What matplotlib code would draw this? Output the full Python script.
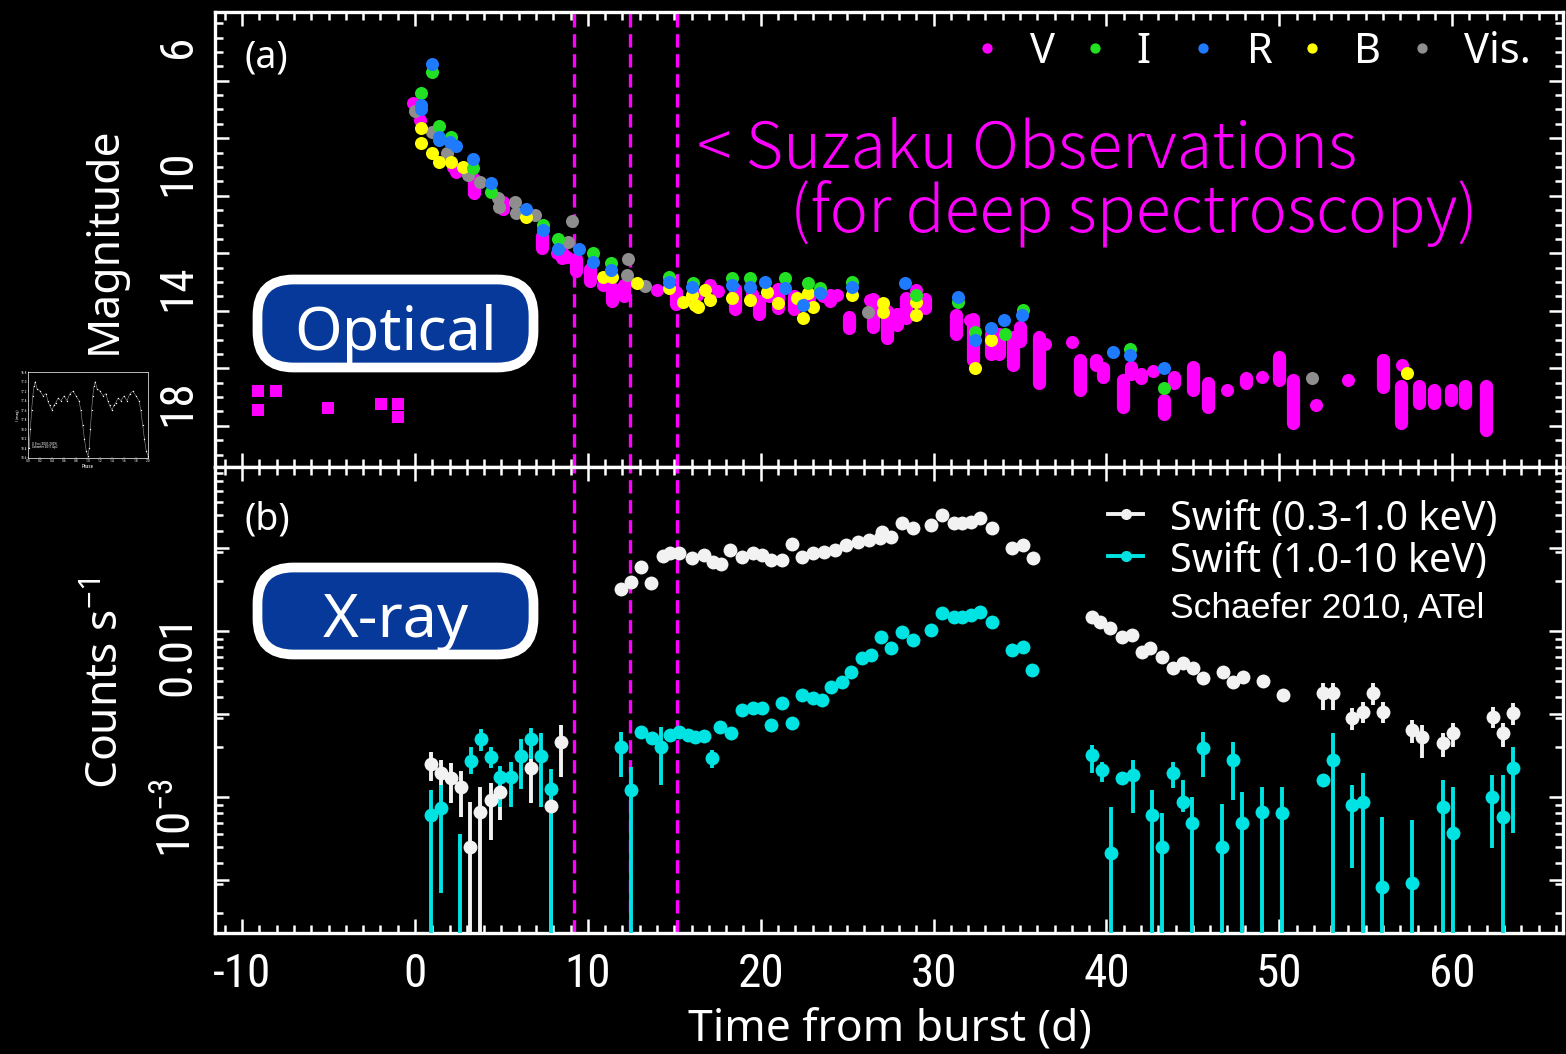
import numpy as np
import matplotlib
matplotlib.use("Agg")
import matplotlib.pyplot as plt
from matplotlib import font_manager
from matplotlib.patches import FancyBboxPatch
from matplotlib.ticker import FixedLocator, MultipleLocator, LogLocator, FuncFormatter, NullFormatter

W, H = 1566, 1054
fonts = font_manager.fontManager.ttflist
names = {f.name for f in fonts}
NARROW, STRETCH = None, "normal"
for cand in ["Liberation Sans Narrow", "Roboto Condensed", "Open Sans Condensed", "Noto Sans Condensed",
             "DejaVu Sans Condensed", "Arial Narrow"]:
    if cand in names:
        NARROW = cand
        break
if NARROW is None:
    cond = [f.name for f in fonts if str(f.stretch) in ("condensed", "semi-condensed", "extra-condensed")
            and f.name in ("Noto Sans", "Open Sans", "Roboto", "DejaVu Sans")]
    if cond:
        NARROW, STRETCH = cond[0], "condensed"
TICK_FS = 34
if NARROW is None:
    NARROW, TICK_FS = "Noto Sans", 30
SANS = "Noto Sans"
plt.rcParams["font.family"] = [NARROW, "DejaVu Sans"]
plt.rcParams["font.stretch"] = STRETCH
plt.rcParams["axes.unicode_minus"] = False

MAGENTA, GREEN, BLUE, YELLOW, GREY = "#ff00ff", "#22e022", "#1e7bff", "#ffff00", "#8e8e8e"
WHITE, CYAN = "#f2f2f2", "#00e3e3"

# ---------------- optical (panel a) ----------------
V_pre_day = [-9.08, -8.04, -9.08, -5.03, -1.97, -0.98, -0.98]
V_pre_mag = [17.79, 17.79, 18.45, 18.38, 18.24, 18.24, 18.70]

V_day = [-0.1, 0.29, 2.2, 2.4, 8.2, 8.77, 10.9, 12.05, 13.98, 16.3, 17.07, 17.5, 19.5, 20.5,
         22.8, 23.6, 24.4, 26.3, 29.0, 32.1, 52.1, 56.0, 57.1]
V_mag = [7.77, 8.37, 9.99, 10.16, 13.0, 13.12, 14.1, 14.16, 14.28, 14.45, 14.1, 14.3, 14.4, 14.5,
         14.6, 14.5, 14.45, 14.63, 14.28, 15.32, 18.28, 16.71, 16.89]

# magenta streaks: day, brightest mag, faintest mag
V_span_day = [3.4, 5.1, 7.35, 8.5, 9.3, 10.15, 11.4, 12.1, 15.1, 18.5, 19.9, 21.0, 21.9, 24.0,
              25.1, 26.5, 27.3, 27.9, 28.4, 29.5, 31.3, 32.3, 33.3, 33.8, 34.6, 35.0, 36.1,
              38.46, 39.4, 39.8, 40.95, 41.4, 42.0, 43.3, 43.9, 45.0, 45.85, 48.1, 50.0, 50.8,
              56.0, 57.05, 58.1, 58.95, 59.95, 60.75, 61.96]
V_span_top = [10.4, 11.2, 12.4, 12.95, 13.2, 13.55, 14.2, 14.1, 14.35, 14.25, 14.65, 14.25, 14.5,
              14.45, 15.2, 14.6, 15.0, 15.1, 14.55, 14.6, 15.15, 15.3, 15.8, 15.8, 15.9, 15.55,
              15.9, 16.7, 16.7, 17.0, 17.4, 16.95, 17.2, 18.1, 17.3, 16.95, 17.5, 17.35, 16.6,
              17.4, 16.7, 17.6, 17.6, 17.75, 17.75, 17.6, 17.6]
V_span_bot = [10.9, 11.45, 12.8, 13.15, 13.6, 13.95, 14.65, 14.5, 14.75, 14.95, 15.1, 14.9, 14.95,
              14.65, 15.6, 15.55, 15.95, 15.5, 15.25, 14.9, 15.8, 16.7, 16.5, 16.5, 16.9, 16.05,
              17.5, 17.75, 16.9, 17.3, 18.35, 17.2, 17.35, 18.6, 17.5, 17.75, 18.35, 17.5, 17.4,
              18.9, 17.65, 18.9, 18.2, 18.2, 18.1, 18.2, 19.15]
V_dot_day = [36.45, 38.0, 42.7, 46.96, 49.0, 54.0]
V_dot_mag = [16.15, 16.07, 17.08, 17.76, 17.3, 17.42]

I_day = [0.97, 0.33, 1.41, 2.06, 3.37, 4.38, 7.39, 8.29, 10.32, 11.33, 14.71, 16.1, 18.32, 19.38,
         21.4, 22.76, 23.43, 25.26, 29.0, 31.43, 32.38, 34.13, 35.15, 41.36, 43.3]
I_mag = [6.71, 7.44, 8.57, 8.94, 10.05, 10.86, 12.02, 12.51, 13.0, 13.35, 13.81, 14.02, 13.87, 13.87,
         13.87, 14.04, 14.22, 13.99, 14.45, 14.68, 15.73, 15.79, 14.97, 16.31, 17.7]

R_day = [0.97, 0.33, 0.33, 1.41, 1.41, 2.0, 2.37, 3.37, 4.38, 6.42, 7.39, 8.29, 9.51, 10.32, 11.33,
         14.71, 16.0, 18.32, 19.38, 20.25, 21.4, 22.47, 23.43, 25.26, 28.35, 31.43, 32.38, 33.3,
         34.1, 35.1, 40.37, 41.36, 43.3]
R_mag = [6.42, 7.85, 8.0, 8.94, 9.06, 9.12, 9.27, 9.73, 10.57, 11.47, 12.19, 12.86, 12.86, 13.29,
         13.58, 13.99, 14.16, 14.1, 14.16, 13.99, 14.22, 14.8, 14.39, 14.16, 14.04, 14.51, 16.02,
         15.61, 15.32, 15.15, 16.42, 16.54, 17.0]

B_day = [0.33, 0.33, 1.0, 1.4, 2.06, 2.8, 6.42, 10.9, 11.38, 12.82, 14.71, 15.52, 16.0, 16.2, 16.39,
         16.78, 17.07, 18.32, 19.38, 20.35, 21.02, 22.1, 22.76, 22.47, 23.05, 25.26, 27.1, 27.1,
         29.0, 29.0, 32.38, 33.3, 57.36]
B_mag = [8.65, 9.15, 9.52, 9.81, 9.81, 9.99, 11.75, 13.84, 13.84, 14.04, 14.22, 14.68, 14.45, 14.8,
         14.86, 14.28, 14.63, 14.57, 14.63, 14.34, 14.74, 14.57, 14.39, 15.26, 14.86, 14.45, 14.74,
         15.03, 14.68, 15.15, 17.0, 16.02, 17.17]

Vis_day = [0.0, 0.97, 1.83, 3.08, 3.76, 4.82, 4.88, 5.79, 5.84, 6.94, 8.87, 9.06, 12.34, 12.25,
           13.3, 26.23, 51.87]
Vis_mag = [8.04, 8.77, 9.52, 10.28, 10.51, 11.09, 11.38, 11.2, 11.6, 11.67, 12.6, 11.89, 13.21,
           13.76, 14.14, 15.03, 17.35]

# ---------------- X-ray (panel b), log10 counts/s ----------------
soft_day = [0.91, 1.49, 2.07, 2.64, 3.18, 3.76, 4.38, 4.92, 6.69, 7.87, 8.45,
            11.92, 12.51, 13.08, 13.67, 14.37, 14.76, 15.27, 16.05, 16.7, 17.21, 17.73, 18.25,
            18.89, 19.54, 20.05, 20.57, 21.21, 21.8, 22.38, 23.02, 23.67, 24.31, 24.96, 25.6,
            26.25, 26.9, 27.54, 27.02, 28.19, 28.83, 29.87, 30.49, 31.16, 31.67, 32.19, 32.71,
            33.35, 34.51, 35.16, 35.75,
            39.15, 39.63, 40.21, 40.88, 41.46, 42.04, 42.52, 43.2, 43.87, 44.45, 45.03, 45.6,
            46.76, 47.34, 47.92, 49.07, 50.23, 52.55, 53.13, 54.19, 54.86, 55.44, 56.02,
            57.66, 58.24, 59.49, 60.07, 62.38, 62.96, 63.54]
soft_log = [-2.801, -2.857, -2.887, -2.942, -3.299, -3.088, -3.018, -2.968, -2.827, -3.054, -2.667,
            -1.749, -1.703, -1.613, -1.709, -1.548, -1.532, -1.532, -1.562, -1.542, -1.583, -1.596,
            -1.512, -1.552, -1.532, -1.542, -1.572, -1.572, -1.478, -1.552, -1.532, -1.522, -1.512,
            -1.482, -1.462, -1.452, -1.442, -1.432, -1.402, -1.351, -1.381, -1.361, -1.301, -1.351,
            -1.351, -1.342, -1.321, -1.381, -1.502, -1.482, -1.562,
            -1.914, -1.944, -1.984, -2.034, -2.024, -2.125, -2.104, -2.155, -2.225, -2.195, -2.225,
            -2.285, -2.245, -2.305, -2.275, -2.299, -2.386, -2.375, -2.375, -2.526, -2.486, -2.375,
            -2.486, -2.596, -2.637, -2.677, -2.616, -2.516, -2.616, -2.496]
soft_err_lo = [0.10, 0.16, 0.15, 0.18, 1.5, 1.5, 0.24, 0.17, 0.21, 1.5, 0.21] + [0.02] * 40 + \
              [0.02] * 17 + [0.10, 0.10, 0.07, 0.07, 0.07, 0.07, 0.08, 0.13, 0.08, 0.08, 0.07, 0.08, 0.07]
soft_err_hi = [0.07, 0.08, 0.09, 0.10, 0.27, 0.15, 0.10, 0.09, 0.13, 0.12, 0.10] + [0.02] * 40 + \
               [0.02] * 17 + [0.06, 0.06, 0.06, 0.06, 0.06, 0.06, 0.06, 0.07, 0.06, 0.06, 0.06, 0.06, 0.06]

hard_day = [0.91, 1.49, 2.6, 3.22, 3.8, 4.38, 4.92, 5.53, 6.11, 6.69, 7.27, 7.87,
            11.92, 12.51, 13.08, 13.72, 14.24, 14.76, 15.27, 15.79, 16.18, 16.7, 17.16, 17.67,
            18.29, 18.89, 19.54, 20.05, 20.57, 21.21, 21.81, 22.38, 23.02, 23.55, 24.05, 24.68,
            25.22, 25.86, 26.38, 26.97, 27.54, 28.19, 28.78, 29.87, 30.51, 31.16, 31.67, 32.19,
            32.71, 33.35, 34.51, 35.16, 35.67,
            39.15, 39.72, 40.25, 40.88, 41.55, 42.62, 43.2, 43.83, 44.41, 44.93, 45.6, 46.67,
            47.3, 47.82, 48.98, 50.14, 52.51, 53.09, 54.19, 54.83, 55.92, 57.66, 59.45, 60.03,
            62.29, 62.93, 63.54]
hard_log = [-3.108, -3.068, -3.95, -2.781, -2.652, -2.757, -2.881, -2.881, -2.753, -2.652, -2.753, -2.954,
            -2.697, -2.958, -2.607, -2.647, -2.697, -2.627, -2.607, -2.627, -2.637, -2.633, -2.767,
            -2.577, -2.616, -2.476, -2.466, -2.466, -2.566, -2.436, -2.556, -2.386, -2.406, -2.416,
            -2.336, -2.305, -2.245, -2.165, -2.145, -2.034, -2.104, -2.004, -2.054, -1.994, -1.893,
            -1.914, -1.914, -1.904, -1.884, -1.944, -2.114, -2.094, -2.235,
            -2.747, -2.837, -3.339, -2.887, -2.867, -3.108, -3.299, -2.857, -3.028, -3.158, -2.707,
            -3.299, -2.777, -3.158, -3.088, -3.098, -2.898, -2.777, -3.048, -3.028, -3.54, -3.52,
            -3.058, -3.219, -2.998, -3.119, -2.827]
hard_err_lo = [1.5, 0.51, 0.0, 0.08, 0.07, 0.07, 0.18, 0.18, 0.2, 0.12, 0.31, 1.5,
               0.18, 1.5, 0.03, 0.03, 0.23] + [0.03] * 5 + [0.06] + [0.03] * 30 + \
              [0.11, 0.07, 1.5, 0.03, 0.23, 1.5, 1.5, 0.09, 0.06, 1.5, 0.17, 1.5, 0.24, 1.5, 1.5,
               1.5, 0.03, 1.5, 0.38, 1.5, 1.5, 1.5, 1.5, 1.5, 0.31, 1.5, 0.39]
hard_err_hi = [0.15, 0.14, 0.73, 0.08, 0.06, 0.06, 0.07, 0.09, 0.1, 0.07, 0.14, 0.12,
               0.09, 0.14, 0.03, 0.03, 0.12] + [0.03] * 5 + [0.05] + [0.03] * 30 + \
              [0.06, 0.05, 0.28, 0.03, 0.09, 0.15, 0.2, 0.07, 0.13, 0.16, 0.1, 0.26, 0.11, 0.19,
               0.15, 0.16, 0.03, 0.16, 0.12, 0.17, 0.42, 0.38, 0.16, 0.28, 0.13, 0.25, 0.13]

suzaku_days = [9.2, 12.42, 15.15]

# inset: folded U Sco eclipse light curve
inset_phase = [0.02, 0.04, 0.06, 0.08, 0.10, 0.12, 0.15, 0.2, 0.25, 0.3, 0.33, 0.36, 0.4, 0.43,
               0.46, 0.5, 0.55, 0.6, 0.65, 0.7, 0.75, 0.8, 0.85, 0.88, 0.91, 0.94, 0.97, 1.0]
inset_mag = [18.4, 18.0, 17.6, 17.3, 17.1, 17.0, 17.15, 17.2, 17.3, 17.25, 17.4, 17.5, 17.6, 17.5,
             17.45, 17.35, 17.4, 17.3, 17.4, 17.25, 17.2, 17.3, 17.4, 17.6, 17.9, 18.2, 18.45, 18.55]


def fx(x):
    return x / W


def fy(y):
    return 1 - y / H


fig = plt.figure(figsize=(W / 100, H / 100), dpi=100, facecolor="black")
L, R, TOP, MID, BOT = 215, 1563, 12, 467, 933
ax1 = fig.add_axes([fx(L), fy(MID), (R - L) / W, (MID - TOP) / H])
ax2 = fig.add_axes([fx(L), fy(BOT), (R - L) / W, (BOT - MID) / H], sharex=ax1)

for ax in (ax1, ax2):
    ax.set_facecolor("black")
    for s in ax.spines.values():
        s.set_color("white")
        s.set_linewidth(2.4)
    ax.tick_params(which="both", direction="in", colors="white", top=True, right=True, width=1.8)
    ax.tick_params(which="major", length=10)
    ax.tick_params(which="minor", length=5.5)
    for d in suzaku_days:
        ax.axvline(d, color=MAGENTA, lw=2.4, dashes=(4, 2), zorder=1)

ax1.set_xlim(-11.57, 66.41)
ax1.xaxis.set_major_locator(MultipleLocator(10))
ax1.xaxis.set_minor_locator(MultipleLocator(1))
ax1.tick_params(axis="x", labelbottom=False)

# panel a
ax1.set_ylim(20.43, 4.61)
ax1.yaxis.set_major_locator(FixedLocator(np.arange(7, 21, 2)))
ax1.yaxis.set_minor_locator(MultipleLocator(0.5))
ax1.tick_params(axis="y", labelleft=False)
sec = ax1.secondary_yaxis("left")
sec.set_yticks([6, 10, 14, 18])
sec.tick_params(length=0, pad=11, labelsize=TICK_FS, colors="white", labelrotation=90)
sec.spines["left"].set_visible(False)

vl = ax1.vlines(V_span_day, V_span_top, V_span_bot, colors=MAGENTA, lw=9.5, zorder=2)
vl.set_capstyle("round")
ms = 88
ax1.scatter(V_day + V_dot_day, V_mag + V_dot_mag, s=ms, color=MAGENTA, lw=0, zorder=2)
ax1.scatter(V_pre_day, V_pre_mag, s=70, marker="s", color=MAGENTA, lw=0, zorder=2)
ax1.scatter(Vis_day, Vis_mag, s=ms, color=GREY, lw=0, zorder=3)
ax1.scatter(B_day, B_mag, s=ms, color=YELLOW, lw=0, zorder=3)
ax1.scatter(I_day, I_mag, s=ms, color=GREEN, lw=0, zorder=3)
ax1.scatter(R_day, R_mag, s=ms, color=BLUE, lw=0, zorder=4)

# legend row of panel a
leg_dot_x = [987, 1095, 1203, 1312, 1422]
leg_txt_x = [1043, 1143, 1260, 1368, 1497]
for c, dx, tx, lab in zip([MAGENTA, GREEN, BLUE, YELLOW, GREY], leg_dot_x, leg_txt_x,
                          ["V", "I", "R", "B", "Vis."]):
    ax1.scatter([(dx - L) / (R - L)], [(MID - 48) / (MID - TOP)], s=55, color=c, lw=0,
                transform=ax1.transAxes, clip_on=False, zorder=6)
    fig.text(fx(tx), fy(63), lab, color="white", fontsize=30, family=SANS, ha="center", va="baseline")

fig.text(fx(245), fy(67), "(a)", color="white", fontsize=27, family=SANS, va="baseline")
fig.text(fx(697), fy(168), "< Suzaku Observations", color=MAGENTA, fontsize=46.5,
         family=["Noto Sans CJK JP", "DejaVu Sans"], fontweight="light", va="baseline")
fig.text(fx(790), fy(231), "(for deep spectroscopy)", color=MAGENTA, fontsize=46.5,
         family=["Noto Sans CJK JP", "DejaVu Sans"], fontweight="light", va="baseline")

# panel b
ax2.set_yscale("log")
ax2.set_ylim(10 ** -3.819, 10 ** -1.012)
ax2.yaxis.set_major_locator(FixedLocator(10.0 ** np.array([-1.5, -2, -2.5, -3, -3.5])))
ax2.yaxis.set_minor_locator(LogLocator(base=10, subs=np.arange(2, 10), numticks=20))
ax2.yaxis.set_minor_formatter(NullFormatter())
ylabels = {-2.0: "0.01", -3.0: r"$\mathregular{10^{-3}}$"}
ax2.yaxis.set_major_formatter(FuncFormatter(lambda v, p: ylabels.get(round(np.log10(v) * 2) / 2, "")))
ax2.tick_params(axis="y", labelsize=TICK_FS, labelrotation=90, pad=11)
ax2.tick_params(axis="x", labelsize=TICK_FS, pad=14)

for day, lg, elo, ehi, col in [(soft_day, soft_log, soft_err_lo, soft_err_hi, WHITE),
                               (hard_day, hard_log, hard_err_lo, hard_err_hi, CYAN)]:
    lg = np.array(lg)
    rate = 10 ** lg
    yerr = [rate - 10 ** (lg - np.array(elo)), 10 ** (lg + np.array(ehi)) - rate]
    ax2.errorbar(day, rate, yerr=yerr, fmt="o", color=col, ms=10, mew=0, elinewidth=2.8,
                 capsize=0, zorder=3)

# Swift legend
for yy, col, lab in [(514, WHITE, "Swift (0.3-1.0 keV)"), (556, CYAN, "Swift (1.0-10 keV)")]:
    ay = (BOT - yy) / (BOT - MID)
    ax2.plot([(1108 - L) / (R - L), (1143 - L) / (R - L)], [ay, ay], color=col, lw=2.8,
             transform=ax2.transAxes, zorder=6)
    ax2.plot([(1126 - L) / (R - L)], [ay], "o", color=col, ms=8, mew=0, transform=ax2.transAxes, zorder=6)
    fig.text(fx(1170), fy(yy + 16), lab, color="white", fontsize=28.5, family=SANS, va="baseline")
fig.text(fx(1170), fy(617), "Schaefer 2010, ATel", color="white", fontsize=25.5,
         family="Liberation Sans", va="baseline")
fig.text(fx(245), fy(530), "(b)", color="white", fontsize=27, family=SANS, va="baseline")

# axis titles
fig.text(fx(105), fy(240), "Magnitude", rotation=90, color="white", fontsize=32, family=SANS,
         ha="center", va="center")
fig.text(fx(108), fy(683), r"Counts s$\mathregular{^{-1}}$", rotation=90, color="white", fontsize=32,
         family=SANS, ha="center", va="center")
fig.text(fx(890), fy(1030), "Time from burst (d)", color="white", fontsize=32, family=SANS,
         ha="center", va="center")

# Optical / X-ray boxes
for y0, y1, lab, base in [(275, 372, "Optical", 350), (563, 659, "X-ray", 637)]:
    box = FancyBboxPatch((257.5 / 100, (H - y1 + 4.5) / 100), 276 / 100, (y1 - y0 - 9) / 100,
                         boxstyle="round,pad=0,rounding_size=0.36", transform=fig.dpi_scale_trans,
                         facecolor="#06399a", edgecolor="white", linewidth=7, zorder=10)
    fig.add_artist(box)
    fig.text(fx(396), fy(base), lab, color="white", fontsize=44, family=SANS, ha="center",
             va="baseline", zorder=11)

# inset thumbnail
axi = fig.add_axes([fx(28), fy(458), 120 / W, 86 / H])
axi.set_facecolor("black")
ph = np.concatenate([inset_phase, np.array(inset_phase) + 1])
mg = np.concatenate([inset_mag, inset_mag])
axi.plot(ph, mg, "o", color="white", ms=1.0, mew=0)
axi.plot(ph, mg, color="white", lw=0.4, alpha=0.6)
axi.set_xlim(0, 2.0)
axi.set_ylim(18.6, 16.8)
axi.set_xticks(np.arange(0, 2.01, 0.2))
axi.set_yticks(np.arange(16.8, 18.61, 0.2))
axi.xaxis.set_major_formatter(FuncFormatter(lambda v, p: f"{v:.1f}"))
axi.yaxis.set_major_formatter(FuncFormatter(lambda v, p: f"{v:.1f}"))
axi.tick_params(colors="white", labelsize=2.6, length=1, width=0.3, pad=0.8, direction="in")
for s in axi.spines.values():
    s.set_color("white")
    s.set_linewidth(0.5)
axi.set_xlabel("Phase", color="white", fontsize=3.5, labelpad=0.5)
axi.set_ylabel("I (mag)", color="white", fontsize=3, labelpad=0.5)
axi.text(0.03, 0.1, "U Sco (2001-2009)\nSchaefer 2011 ApJ", transform=axi.transAxes,
         color="white", fontsize=2.4, va="bottom")

fig.savefig("out.png", dpi=100, facecolor="black")
